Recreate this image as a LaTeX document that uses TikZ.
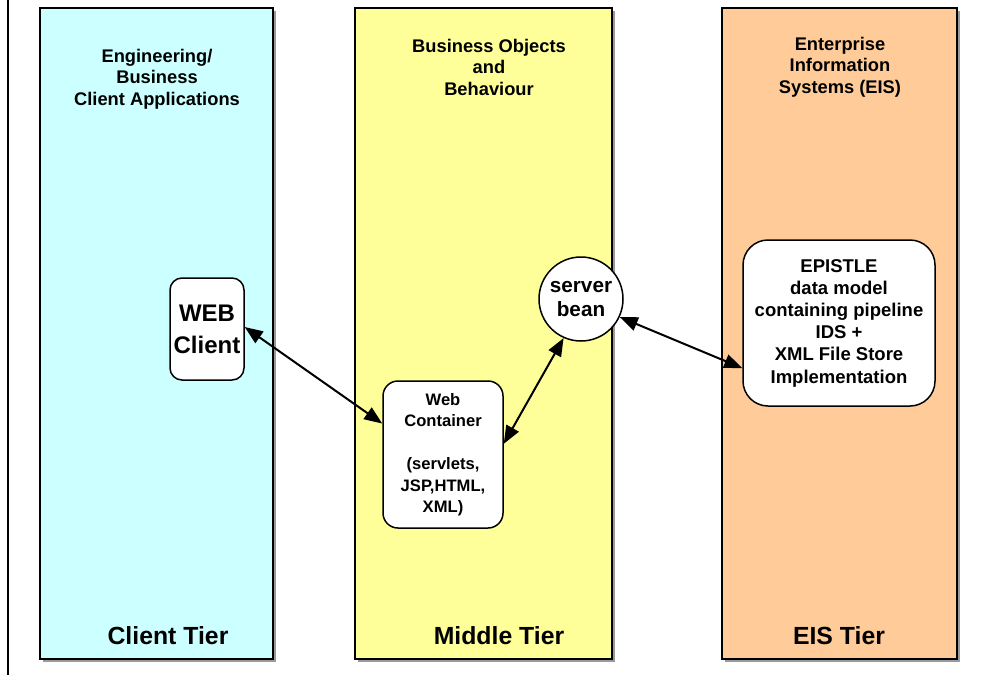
\documentclass[tikz,border=0pt]{standalone}
\usepackage{fontspec}
\setmainfont{Liberation Sans}
\usetikzlibrary{arrows.meta}
\definecolor{clientc}{HTML}{CCFFFF}
\definecolor{middlec}{HTML}{FFFF99}
\definecolor{eisc}{HTML}{FFCC99}
\definecolor{shadowc}{HTML}{9A9A9A}
\tikzset{
  colbox/.style={draw=black, line width=2pt, inner sep=0pt},
  heading/.style={align=center, inner sep=0pt, font=\bfseries\fontsize{18.3}{21.5}\selectfont},
  tierlabel/.style={inner sep=0pt, font=\bfseries\fontsize{24.8}{28}\selectfont},
  rbox/.style={draw=black, line width=1.5pt, fill=white, align=center, inner sep=0pt},
  link/.style={line width=2pt}
}
\begin{document}
\begin{tikzpicture}[x=1pt,y=-1pt]
\useasboundingbox (0,0) rectangle (987,675);
\fill[white] (0,0) rectangle (987,675);
% left frame line
\coordinate (ltop) at (8,0);
\coordinate (lbot) at (8,675);
\draw[line width=2pt] (ltop) -- (lbot);
% shadows
\fill[shadowc] (43,11) rectangle (276,662);
\fill[shadowc] (358,11) rectangle (615,662);
\fill[shadowc] (725,11) rectangle (960,662);
% column boxes
\node[colbox, fill=clientc, minimum width=233pt, minimum height=651pt] (client) at (156.5,333.5) {};
\node[colbox, fill=middlec, minimum width=257pt, minimum height=651pt] (middle) at (483.5,333.5) {};
\node[colbox, fill=eisc, minimum width=235pt, minimum height=651pt] (eis) at (839.5,333.5) {};
% headings
\node[heading] (h1) at (157,79) {Engineering/\\Business\\Client Applications};
\node[heading] (h2) at (489,67) {Business Objects\\and\\Behaviour};
\node[heading] (h3) at (840,67) {Enterprise\\Information\\Systems (EIS)};
% tier labels
\node[tierlabel] (t1) at (168,636) {Client Tier};
\node[tierlabel] (t2) at (499,636) {Middle Tier};
\node[tierlabel] (t3) at (839,636) {EIS Tier};
% inner nodes
\node[rbox, rounded corners=12pt, minimum width=74pt, minimum height=102pt,
      font=\bfseries\fontsize{24}{32}\selectfont] (web) at (207,329) {WEB\\Client};
\node[rbox, rounded corners=15pt, minimum width=120pt, minimum height=147pt,
      font=\bfseries\fontsize{16.6}{21.5}\selectfont] (cont) at (443,454.5)
      {Web\\Container\\[21.5pt](servlets,\\JSP,HTML,\\XML)};
\node[rbox, circle, minimum size=84pt,
      font=\bfseries\fontsize{20.7}{24.5}\selectfont] (bean) at (581,299) {server\\bean};
\node[rbox, rounded corners=25pt, minimum width=192pt, minimum height=166pt,
      font=\bfseries\fontsize{18.5}{22.2}\selectfont] (epi) at (839,323)
      {EPISTLE\\data model\\containing pipeline\\IDS +\\XML File Store\\Implementation};
% connectors
\draw[link, {Triangle[length=18pt,width=14pt]}-{Triangle[length=18pt,width=14pt]}] (web.3) -- (cont.153);
\draw[link, {Triangle[length=18pt,width=14pt]}-{Triangle[length=18pt,width=14pt]}] (cont.10) -- (bean.246);
\draw[link, {Triangle[length=18pt,width=14pt]}-{Triangle[length=18pt,width=14pt]}] (bean.335) -- (epi.205);
\end{tikzpicture}
\end{document}
